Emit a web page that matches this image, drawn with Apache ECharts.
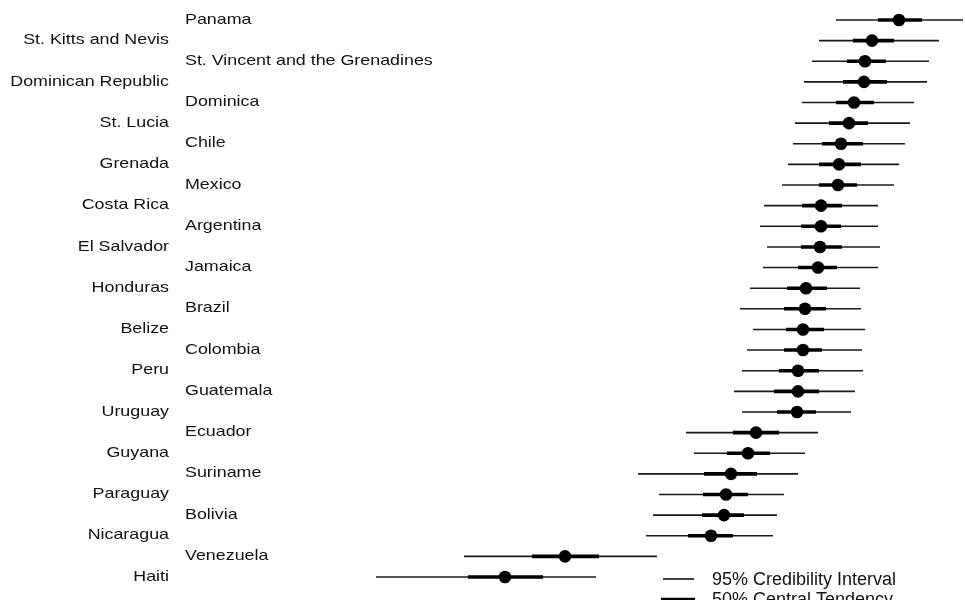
<!DOCTYPE html>
<html>
<head>
<meta charset="utf-8">
<script src="https://cdn.jsdelivr.net/npm/echarts@6/dist/echarts.min.js"></script>
<style>
html,body{margin:0;padding:0;background:#fff;}
#chart{width:965px;height:600px;}
</style>
</head>
<body>
<div id="chart"></div>
<script>
const countries = ["Panama","St. Kitts and Nevis","St. Vincent and the Grenadines","Dominican Republic","Dominica","St. Lucia","Chile","Grenada","Mexico","Costa Rica","Argentina","El Salvador","Jamaica","Honduras","Brazil","Belize","Colombia","Peru","Guatemala","Uruguay","Ecuador","Guyana","Suriname","Paraguay","Bolivia","Nicaragua","Venezuela","Haiti"];
const median = [8.99,8.72,8.65,8.64,8.54,8.49,8.41,8.39,8.38,8.21,8.21,8.20,8.18,8.06,8.05,8.03,8.03,7.98,7.98,7.97,7.56,7.48,7.31,7.26,7.24,7.11,5.65,5.05];
const lo95 = [8.36,8.19,8.12,8.04,8.02,7.95,7.93,7.88,7.82,7.64,7.60,7.67,7.63,7.50,7.40,7.53,7.47,7.42,7.34,7.42,6.86,6.94,6.38,6.59,6.53,6.46,4.64,3.76];
const hi95 = [9.63,9.39,9.29,9.27,9.14,9.10,9.05,8.99,8.94,8.78,8.78,8.80,8.78,8.60,8.61,8.65,8.62,8.63,8.55,8.51,8.18,8.05,7.98,7.84,7.77,7.73,6.57,5.96];
const lo50 = [8.78,8.53,8.47,8.43,8.36,8.29,8.22,8.19,8.19,8.02,8.01,8.01,7.98,7.87,7.84,7.86,7.84,7.79,7.74,7.77,7.33,7.27,7.04,7.03,7.02,6.88,5.32,4.68];
const hi50 = [9.22,8.94,8.86,8.87,8.74,8.68,8.63,8.61,8.57,8.42,8.41,8.42,8.37,8.27,8.26,8.24,8.22,8.19,8.19,8.16,7.79,7.70,7.57,7.48,7.44,7.33,5.99,5.43];
const legendLabels = ["95% Credibility Interval","50% Central Tendency"];

const FONT = '"Liberation Sans", Arial, Helvetica, sans-serif';
const intervalData = countries.map((c, i) => [i, lo95[i], hi95[i], lo50[i], hi50[i], median[i]]);
const labelData = countries.map((c, i) => [i, c]);

const chart = echarts.init(document.getElementById('chart'), null, {renderer: 'canvas'});
chart.setOption({
  animation: false,
  backgroundColor: '#ffffff',
  grid: {left: 0, right: 0, top: 20, bottom: 23},
  xAxis: {type: 'value', min: 0, max: 9.65, show: false},
  yAxis: {type: 'value', min: 0, max: 27, inverse: true, show: false},
  series: [
    {
      type: 'custom',
      clip: false,
      data: intervalData,
      encode: {x: [1, 2, 3, 4, 5], y: 0},
      renderItem: function (params, api) {
        const y = api.value(0);
        const a = api.coord([api.value(1), y]);
        const b = api.coord([api.value(2), y]);
        const c = api.coord([api.value(3), y]);
        const d = api.coord([api.value(4), y]);
        const m = api.coord([api.value(5), y]);
        return {
          type: 'group',
          children: [
            {type: 'line', shape: {x1: a[0], y1: a[1], x2: b[0], y2: b[1]}, style: {stroke: '#1a1a1a', lineWidth: 1.6}},
            {type: 'line', shape: {x1: c[0], y1: c[1], x2: d[0], y2: d[1]}, style: {stroke: '#000', lineWidth: 3.6}},
            {type: 'circle', shape: {cx: m[0], cy: m[1], r: 6.3}, style: {fill: '#000'}}
          ]
        };
      }
    },
    {
      type: 'custom',
      clip: false,
      data: labelData,
      encode: {y: 0},
      renderItem: function (params, api) {
        const i = api.value(0);
        const p = api.coord([0, i]);
        const right = (i % 2 === 1);
        return {
          type: 'text',
          x: right ? 169 : 185,
          y: p[1] - 0.5,
          scaleX: 1.19,
          style: {
            text: countries[i],
            x: 0, y: 0,
            fontSize: 15,
            fontFamily: FONT,
            fill: '#111',
            align: right ? 'right' : 'left',
            verticalAlign: 'middle'
          }
        };
      }
    }
  ],
  graphic: [
    {type: 'line', shape: {x1: 663, y1: 579, x2: 694, y2: 579}, style: {stroke: '#111', lineWidth: 1.6}},
    {type: 'line', shape: {x1: 661, y1: 599.5, x2: 695, y2: 599.5}, style: {stroke: '#000', lineWidth: 3.6}},
    {type: 'text', x: 712, y: 580, style: {text: legendLabels[0], fontSize: 18, fontFamily: FONT, fill: '#111', verticalAlign: 'middle'}},
    {type: 'text', x: 712, y: 600.5, style: {text: legendLabels[1], fontSize: 18, fontFamily: FONT, fill: '#111', verticalAlign: 'middle'}}
  ]
});
</script>
</body>
</html>
